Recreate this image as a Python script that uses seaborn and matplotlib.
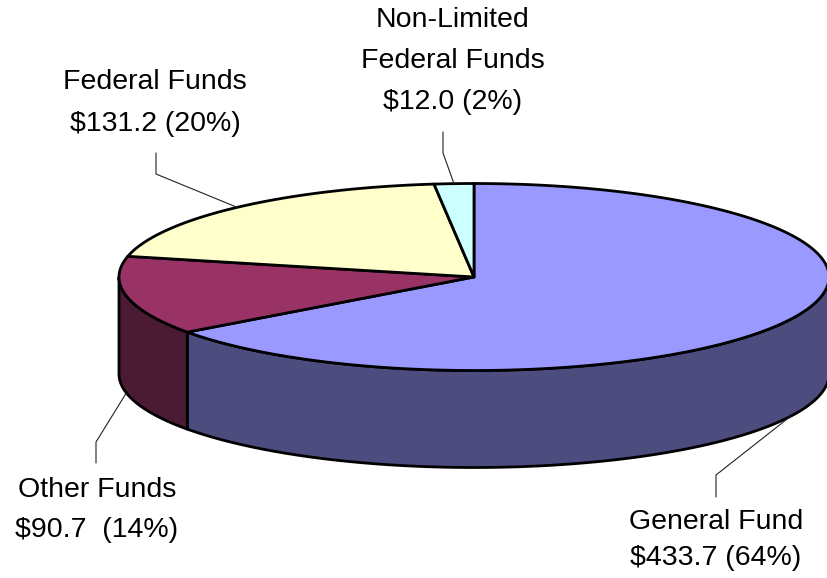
import numpy as np
import matplotlib
matplotlib.use("Agg")
import matplotlib.pyplot as plt
import seaborn as sns

# budget split, in millions of dollars
categories = ["General Fund", "Other Funds", "Federal Funds", "Non-Limited Federal Funds"]
amounts = [433.7, 90.7, 131.2, 12.0]
label_texts = ["General Fund\n$433.7 (64%)",
               "Other Funds\n$90.7  (14%)",
               "Federal Funds\n$131.2 (20%)",
               "Non-Limited\nFederal Funds\n$12.0 (2%)"]
top_colors = ["#9999FF", "#993366", "#FFFFCC", "#CCFFFF"]
side_colors = ["#4C4C7F", "#4B1A33", "#80806A", "#668080"]

sns.set_theme(style="white")
plt.rcParams["font.family"] = ["Liberation Sans", "DejaVu Sans"]

# pie geometry in pixel space (y grows downward)
cx, cy = 474, 277
rx, ry = 355, 93.5
depth = 97


def rim(t):
    t = np.radians(t)
    return cx + rx * np.cos(t), cy - ry * np.sin(t)


fig = plt.figure(figsize=(8.28, 5.78), dpi=100)
ax = fig.add_axes([0, 0, 1, 1])
ax.set_xlim(0, 828)
ax.set_ylim(578, 0)
ax.axis("off")

fracs = np.array(amounts) / sum(amounts)
# Excel style: start at 12 o'clock, go clockwise
ends = 90 - np.cumsum(fracs) * 360
starts = np.concatenate([[90], ends[:-1]])

# front walls (angles between -180 and 0 face the viewer)
for s, e, col in zip(starts, ends, side_colors):
    segs = []
    for off in (0, 360, -360):
        a0, a1 = max(e + off, -180), min(s + off, 0)
        if a1 > a0:
            segs.append((a0, a1))
    for a0, a1 in segs:
        t = np.linspace(a0, a1, 120)
        xs, ys = rim(t)
        px = np.concatenate([xs, xs[::-1]])
        py = np.concatenate([ys, (ys + depth)[::-1]])
        ax.fill(px, py, facecolor=col, edgecolor="black", linewidth=2,
                joinstyle="round", zorder=2)

# top faces
for s, e, col in zip(starts, ends, top_colors):
    t = np.linspace(s, e, 200)
    xs, ys = rim(t)
    px = np.concatenate([[cx], xs, [cx]])
    py = np.concatenate([[cy], ys, [cy]])
    ax.fill(px, py, facecolor=col, edgecolor="black", linewidth=2,
            joinstyle="round", zorder=3)

# leader lines and labels: (elbow x, elbow y, end y, text x, first line y, line step)
layout = [
    (716, 475, 497, 716, 522, 36),
    (96, 442, 463, 97, 490, 40),
    (156, 174, 153, 155, 82, 42),
    (443, 153, 132, 453, 20, 41),
]
mids = (starts + ends) / 2
for i, (ex, ey, ey2, tx, ty, step) in enumerate(layout):
    mx, my = rim(mids[i])
    if np.sin(np.radians(mids[i])) < 0:
        my = my + depth
    ax.plot([mx, ex, ex], [my, ey, ey2], color="#222222", linewidth=0.8, zorder=4)
    for j, line in enumerate(label_texts[i].split("\n")):
        ax.text(tx, ty + j * step, line.replace("$", r"\$"), ha="center", va="center",
                fontsize=20.5, color="black", zorder=5)

fig.savefig("out.png", dpi=100)
